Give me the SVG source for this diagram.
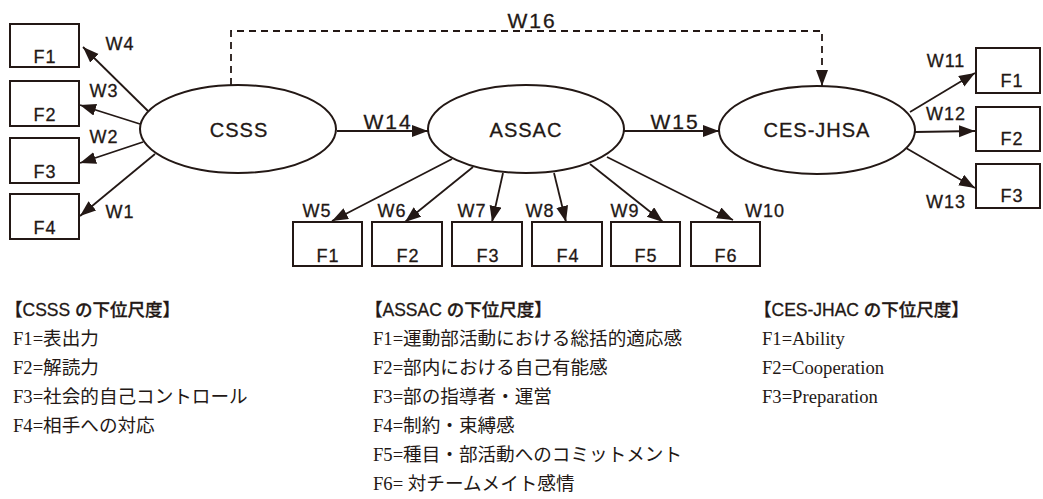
<svg xmlns="http://www.w3.org/2000/svg" width="1043" height="499" viewBox="0 0 1043 499">
<style>
.box{fill:#fff;stroke:#231815;stroke-width:2}
.ell{fill:#fff;stroke:#231815;stroke-width:2}
.ln{stroke:#231815;stroke-width:1.8;fill:none;marker-end:url(#ah)}
.dash{stroke:#231815;stroke-width:1.8;fill:none;stroke-dasharray:7,5;marker-end:url(#ah)}
.nl{font-family:"Liberation Sans",Arial,sans-serif;font-size:20px;letter-spacing:1px;fill:#231815;stroke:#231815;stroke-width:0.3;text-anchor:middle}
.fl{font-family:"Liberation Sans",Arial,sans-serif;font-size:18px;letter-spacing:1px;fill:#231815;stroke:#231815;stroke-width:0.3;text-anchor:middle}
.wl{font-family:"Liberation Sans",Arial,sans-serif;font-size:18px;letter-spacing:1px;fill:#231815;stroke:#231815;stroke-width:0.3;text-anchor:middle}
.wb{font-family:"Liberation Sans",Arial,sans-serif;font-size:21px;letter-spacing:2px;fill:#231815;stroke:#231815;stroke-width:0.3;text-anchor:middle}
.lt{font-family:"Liberation Sans","Noto Sans CJK JP",sans-serif;font-size:17.5px;font-weight:500;fill:#231815;stroke:#231815;stroke-width:0.3}
.lb{font-family:"Liberation Serif","Noto Sans CJK JP",serif;font-size:18.6px;fill:#231815}
</style>
<defs>
<marker id="ah" markerUnits="userSpaceOnUse" markerWidth="17" markerHeight="13" refX="16" refY="6" orient="auto">
<path d="M0,0 L16,6 L0,12 z" fill="#231815"/>
</marker>
</defs>
<g id="connectors">
<path class="dash" d="M231,85 V31 H822 V86"/>
<line class="ln" x1="148" y1="111" x2="83" y2="47"/>
<line class="ln" x1="140" y1="124" x2="80" y2="105"/>
<line class="ln" x1="143" y1="142" x2="80" y2="163"/>
<line class="ln" x1="155" y1="154" x2="80" y2="216"/>
<line class="ln" x1="337" y1="131" x2="428" y2="131"/>
<line class="ln" x1="624" y1="131" x2="719" y2="131"/>
<line class="ln" x1="452" y1="159" x2="332" y2="221"/>
<line class="ln" x1="473" y1="167" x2="405" y2="222"/>
<line class="ln" x1="503" y1="173" x2="492" y2="222"/>
<line class="ln" x1="554" y1="173" x2="566" y2="222"/>
<line class="ln" x1="590" y1="164" x2="663" y2="222"/>
<line class="ln" x1="607" y1="157" x2="733" y2="220"/>
<line class="ln" x1="910" y1="112" x2="975" y2="73"/>
<line class="ln" x1="915" y1="132" x2="975" y2="131"/>
<line class="ln" x1="906" y1="148" x2="975" y2="188"/>
<text class="wb" x="532" y="28">W16</text>
<text class="wb" x="388" y="129">W14</text>
<text class="wb" x="675" y="129">W15</text>
<text class="wl" x="120" y="50">W4</text>
<text class="wl" x="104" y="97">W3</text>
<text class="wl" x="104" y="143">W2</text>
<text class="wl" x="120" y="218">W1</text>
<text class="wl" x="317" y="217">W5</text>
<text class="wl" x="392" y="217">W6</text>
<text class="wl" x="472" y="217">W7</text>
<text class="wl" x="540" y="217">W8</text>
<text class="wl" x="625" y="217">W9</text>
<text class="wl" x="765" y="217">W10</text>
<text class="wl" x="946" y="67">W11</text>
<text class="wl" x="946" y="120">W12</text>
<text class="wl" x="946" y="208">W13</text>
</g>
<g id="CSSS"><ellipse class="ell" cx="238" cy="129" rx="98" ry="44"/><text class="nl" x="239" y="137">CSSS</text></g>
<g id="ASSAC"><ellipse class="ell" cx="526" cy="129" rx="98" ry="44"/><text class="nl" x="526" y="137">ASSAC</text></g>
<g id="CES-JHSA"><ellipse class="ell" cx="817" cy="130" rx="98" ry="44"/><text class="nl" x="817" y="137">CES-JHSA</text></g>
<g id="CSSS-F1"><rect class="box" x="10" y="24" width="69" height="43"/><text class="fl" x="45" y="63">F1</text></g>
<g id="CSSS-F2"><rect class="box" x="10" y="81" width="69" height="45"/><text class="fl" x="45" y="121">F2</text></g>
<g id="CSSS-F3"><rect class="box" x="10" y="138" width="69" height="45"/><text class="fl" x="45" y="178">F3</text></g>
<g id="CSSS-F4"><rect class="box" x="10" y="194" width="69" height="45"/><text class="fl" x="45" y="234">F4</text></g>
<g id="ASSAC-F1"><rect class="box" x="293" y="222" width="69" height="44"/><text class="fl" x="328" y="262">F1</text></g>
<g id="ASSAC-F2"><rect class="box" x="372" y="222" width="70" height="44"/><text class="fl" x="408" y="262">F2</text></g>
<g id="ASSAC-F3"><rect class="box" x="452" y="222" width="70" height="44"/><text class="fl" x="488" y="262">F3</text></g>
<g id="ASSAC-F4"><rect class="box" x="532" y="222" width="70" height="44"/><text class="fl" x="568" y="262">F4</text></g>
<g id="ASSAC-F5"><rect class="box" x="611" y="222" width="69" height="44"/><text class="fl" x="646" y="262">F5</text></g>
<g id="ASSAC-F6"><rect class="box" x="691" y="222" width="69" height="44"/><text class="fl" x="726" y="262">F6</text></g>
<g id="CES-F1"><rect class="box" x="976" y="48" width="64" height="45"/><text class="fl" x="1012" y="87">F1</text></g>
<g id="CES-F2"><rect class="box" x="976" y="107" width="64" height="44"/><text class="fl" x="1012" y="145">F2</text></g>
<g id="CES-F3"><rect class="box" x="976" y="164" width="64" height="44"/><text class="fl" x="1012" y="202">F3</text></g>
<g id="legend-CSSS">
<text class="lt" x="5" y="316">【CSSS の下位尺度】</text>
<text class="lb" x="13" y="345">F1=表出力</text>
<text class="lb" x="13" y="374">F2=解読力</text>
<text class="lb" x="13" y="403">F3=社会的自己コントロール</text>
<text class="lb" x="13" y="432">F4=相手への対応</text>
</g>
<g id="legend-ASSAC">
<text class="lt" x="365" y="316">【ASSAC の下位尺度】</text>
<text class="lb" x="373" y="345">F1=運動部活動における総括的適応感</text>
<text class="lb" x="373" y="374">F2=部内における自己有能感</text>
<text class="lb" x="373" y="403">F3=部の指導者・運営</text>
<text class="lb" x="373" y="432">F4=制約・束縛感</text>
<text class="lb" x="373" y="461">F5=種目・部活動へのコミットメント</text>
<text class="lb" x="373" y="490">F6= 対チームメイト感情</text>
</g>
<g id="legend-CES-JHAC">
<text class="lt" x="754" y="316">【CES-JHAC の下位尺度】</text>
<text class="lb" x="762" y="345">F1=Ability</text>
<text class="lb" x="762" y="374">F2=Cooperation</text>
<text class="lb" x="762" y="403">F3=Preparation</text>
</g>
</svg>
